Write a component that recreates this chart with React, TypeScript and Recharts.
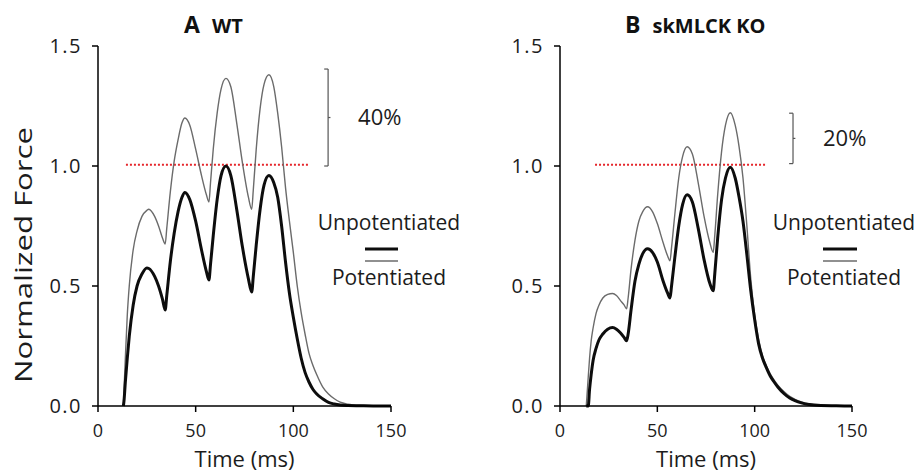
import React from 'react';
import { LineChart, Line, XAxis, YAxis, ReferenceLine, Legend } from 'recharts';

const FONT = '"Open Sans", sans-serif';
const TEXT = '#1c1c1c';

// Panel A - WT
const wtTime = [
  13, 13.3, 14, 15, 16, 18, 20, 22.5, 25, 26, 29, 31, 33, 34.4, 35.2, 37, 39, 41, 43, 44.5,
  47, 50, 53, 55.5, 56.8, 57.6, 59, 61, 63, 65.5, 68, 71, 74, 77, 78.7, 79.5, 81, 83, 85, 87.5,
  90, 92, 94, 96, 98, 100, 102, 104, 106, 108, 110, 112, 115, 118, 121, 124, 128, 134, 142, 150,
];
const wtUnpotentiated = [
  0, 0.02, 0.1, 0.2, 0.29, 0.42, 0.5, 0.55, 0.575, 0.573,
  0.54, 0.5, 0.445, 0.4, 0.46, 0.6, 0.72, 0.81, 0.87, 0.89,
  0.86, 0.77, 0.65, 0.56, 0.525, 0.59, 0.71, 0.86, 0.96, 1.0,
  0.96, 0.82, 0.66, 0.53, 0.475, 0.54, 0.67, 0.82, 0.92, 0.96,
  0.93, 0.87, 0.75, 0.6, 0.47, 0.37, 0.28, 0.2, 0.14, 0.1,
  0.07, 0.05, 0.03, 0.015, 0.008, 0.004, 0.002, 0.001, 0, 0,
];
const wtPotentiated = [
  0, 0.06, 0.2, 0.38, 0.5, 0.65, 0.73, 0.79, 0.815, 0.82,
  0.79, 0.75, 0.7, 0.675, 0.74, 0.89, 1.02, 1.11, 1.18, 1.2,
  1.17, 1.07, 0.96, 0.88, 0.85, 0.93, 1.07, 1.22, 1.32, 1.365,
  1.33, 1.18, 1.01, 0.87, 0.82, 0.9, 1.07, 1.24, 1.34, 1.38,
  1.33, 1.22, 1.08, 0.91, 0.77, 0.64, 0.5, 0.39, 0.3, 0.22,
  0.17, 0.13, 0.08, 0.05, 0.03, 0.016, 0.008, 0.003, 0.001, 0,
];

// Panel B - skMLCK KO
const koTime = [
  13.5, 14, 14.5, 15.2, 16, 17, 18.5, 20, 22, 24.5, 27, 29, 31, 33, 34.2, 35, 36.5, 38.5, 40.5, 42.5,
  45, 47.5, 50, 53, 55.3, 56.5, 57.3, 59, 61, 63, 65.3, 68, 71, 74, 77, 78.7, 79.5, 81, 83, 85,
  87.5, 90, 92, 94, 96, 98, 100, 102, 104, 106, 108, 110, 112, 115, 118, 121, 124, 128, 134, 142, 150,
];
const koUnpotentiated = [
  0, 0, 0, 0.07, 0.13, 0.19, 0.24, 0.275, 0.3, 0.32,
  0.327, 0.32, 0.305, 0.285, 0.272, 0.3, 0.4, 0.52, 0.59, 0.635,
  0.655, 0.64, 0.6, 0.52, 0.47, 0.45, 0.5, 0.62, 0.75, 0.84,
  0.88, 0.85, 0.74, 0.61, 0.51, 0.48, 0.55, 0.7, 0.86, 0.95,
  0.995, 0.95, 0.87, 0.77, 0.63, 0.48, 0.36, 0.26, 0.2, 0.16,
  0.125, 0.1, 0.078, 0.052, 0.033, 0.021, 0.013, 0.006, 0.002, 0.001, 0,
];
const koPotentiated = [
  0, 0.06, 0.12, 0.2, 0.27, 0.325, 0.385, 0.42, 0.45, 0.465,
  0.469, 0.46, 0.44, 0.42, 0.405, 0.45, 0.57, 0.69, 0.77, 0.81,
  0.83, 0.81, 0.76, 0.68, 0.625, 0.605, 0.66, 0.8, 0.95, 1.04,
  1.08, 1.05, 0.93, 0.79, 0.68, 0.64, 0.71, 0.88, 1.06, 1.17,
  1.222, 1.17, 1.08, 0.95, 0.75, 0.53, 0.38, 0.28, 0.21, 0.168,
  0.134, 0.108, 0.086, 0.06, 0.04, 0.027, 0.017, 0.009, 0.003, 0.001, 0,
];

const xTicks = [0, 50, 100, 150];
const yTicks = [0, 0.5, 1.0, 1.5];

// annotations: dotted reference at 1.0 and the potentiation brackets
const wtReference = { from: 14.3, to: 107.5, level: 1.005 };
const koReference = { from: 18, to: 106.3, level: 1.005 };
const wtBracket = { x: 117.8, low: 1.0, high: 1.404, text: '40%' };
const koBracket = { x: 119.7, low: 1.01, high: 1.22, text: '20%' };

const YTitle = (props: any) => {
  const { viewBox } = props;
  const cx = viewBox.x - 16;
  const cy = viewBox.y + viewBox.height / 2 + 29;
  return (
    <text
      x={cx}
      y={cy}
      transform={`rotate(-90 ${cx} ${cy})`}
      textAnchor="middle"
      dominantBaseline="central"
      fontFamily={FONT}
      fontSize={24}
      fill={TEXT}
      textLength={256}
      lengthAdjust="spacingAndGlyphs"
    >
      Normalized Force
    </text>
  );
};

const LegendBox = ({ cx, lineX1, lineX2 }: { cx: number; lineX1: number; lineX2: number }) => (
  <svg width={170} height={90} style={{ overflow: 'visible' }}>
    <text x={cx} y={25} textAnchor="middle" fontFamily={FONT} fontSize={21} fill={TEXT}>
      Unpotentiated
    </text>
    <line x1={lineX1} x2={lineX2} y1={44} y2={44} stroke="#0d0d0d" strokeWidth={3} />
    <line x1={lineX1} x2={lineX2} y1={56} y2={56} stroke="#6b6b6b" strokeWidth={1.4} />
    <text x={cx} y={80} textAnchor="middle" fontFamily={FONT} fontSize={21} fill={TEXT}>
      Potentiated
    </text>
  </svg>
);

interface PanelProps {
  time: number[];
  unpot: number[];
  pot: number[];
  reference: { from: number; to: number; level: number };
  bracket: { x: number; low: number; high: number; text: string };
  letter: string;
  title: string;
  left: number;
  width: number;
  titleLeft: number;
  margin: { top: number; right: number; bottom: number; left: number };
  legendPos: { left: number; cx: number; lineX1: number; lineX2: number };
  yLabel?: boolean;
}

const Panel = ({
  time, unpot, pot, reference, bracket, letter, title, left, width, titleLeft, margin, legendPos, yLabel,
}: PanelProps) => {
  const rows = time.map((t, i) => ({ t, unpot: unpot[i], pot: pot[i] }));
  const mid = (bracket.low + bracket.high) / 2;
  const bracketStroke = '#555';
  return (
    <div style={{ position: 'absolute', left, top: 0, width, height: 476 }}>
      <div
        style={{
          position: 'absolute', left: titleLeft, top: 9, zIndex: 2, fontFamily: FONT,
          fontWeight: 700, color: '#111', lineHeight: '30px', whiteSpace: 'nowrap',
        }}
      >
        <span style={{ fontSize: 23 }}>{letter}</span>
        <span style={{ fontSize: 20, marginLeft: 12 }}>{title}</span>
      </div>
      <LineChart width={width} height={476} data={rows} margin={margin}>
        <XAxis
          dataKey="t"
          type="number"
          domain={[0, 150]}
          ticks={xTicks}
          height={40}
          stroke="#000"
          strokeWidth={1.5}
          tickSize={6}
          tickMargin={12}
          tick={{ fontFamily: FONT, fontSize: 18, fill: TEXT }}
          label={{ value: 'Time (ms)', position: 'bottom', offset: 5, fontFamily: FONT, fontSize: 22, fill: TEXT }}
        />
        <YAxis
          type="number"
          domain={[0, 1.5]}
          ticks={yTicks}
          width={60}
          stroke="#000"
          strokeWidth={1.5}
          tickSize={6}
          tickMargin={10}
          tickFormatter={(v: number) => v.toFixed(1)}
          tick={{ fontFamily: FONT, fontSize: 20, fill: TEXT, letterSpacing: 1.5 }}
          label={yLabel ? <YTitle /> : undefined}
        />
        <ReferenceLine
          segment={[{ x: reference.from, y: reference.level }, { x: reference.to, y: reference.level }]}
          stroke="#e5262b"
          strokeWidth={2}
          strokeDasharray="2 2"
        />
        <ReferenceLine
          segment={[{ x: bracket.x, y: bracket.low }, { x: bracket.x, y: bracket.high }]}
          stroke={bracketStroke}
          strokeWidth={1.2}
          label={{ value: bracket.text, position: 'right', offset: 30, fontFamily: FONT, fontSize: 22, fill: TEXT }}
        />
        <ReferenceLine
          segment={[{ x: bracket.x - 2, y: bracket.high }, { x: bracket.x, y: bracket.high }]}
          stroke={bracketStroke}
          strokeWidth={1.2}
        />
        <ReferenceLine
          segment={[{ x: bracket.x - 2, y: bracket.low }, { x: bracket.x, y: bracket.low }]}
          stroke={bracketStroke}
          strokeWidth={1.2}
        />
        <ReferenceLine
          segment={[{ x: bracket.x, y: mid }, { x: bracket.x + 1.2, y: mid }]}
          stroke={bracketStroke}
          strokeWidth={1.2}
        />
        <Line
          type="monotone"
          dataKey="pot"
          stroke="#6b6b6b"
          strokeWidth={1.4}
          dot={false}
          isAnimationActive={false}
        />
        <Line
          type="monotone"
          dataKey="unpot"
          stroke="#0d0d0d"
          strokeWidth={3}
          dot={false}
          isAnimationActive={false}
        />
        <Legend
          layout="horizontal"
          verticalAlign="middle"
          align="center"
          wrapperStyle={{ left: legendPos.left, top: 205, width: 170, height: 90 }}
          content={() => <LegendBox cx={legendPos.cx} lineX1={legendPos.lineX1} lineX2={legendPos.lineX2} />}
        />
      </LineChart>
    </div>
  );
};

export default function App() {
  return (
    <div style={{ position: 'absolute', left: 0, top: 0, width: 921, height: 476, background: '#fff' }}>
      <Panel
        time={wtTime}
        unpot={wtUnpotentiated}
        pot={wtPotentiated}
        reference={wtReference}
        bracket={wtBracket}
        letter="A"
        title="WT"
        left={0}
        width={470}
        titleLeft={184}
        margin={{ top: 46, right: 79, bottom: 30, left: 38 }}
        legendPos={{ left: 300, cx: 89, lineX1: 65, lineX2: 98 }}
        yLabel
      />
      <Panel
        time={koTime}
        unpot={koUnpotentiated}
        pot={koPotentiated}
        reference={koReference}
        bracket={koBracket}
        letter="B"
        title="skMLCK KO"
        left={460}
        width={461}
        titleLeft={165}
        margin={{ top: 46, right: 69, bottom: 30, left: 40 }}
        legendPos={{ left: 300, cx: 84, lineX1: 63, lineX2: 97 }}
      />
    </div>
  );
}
